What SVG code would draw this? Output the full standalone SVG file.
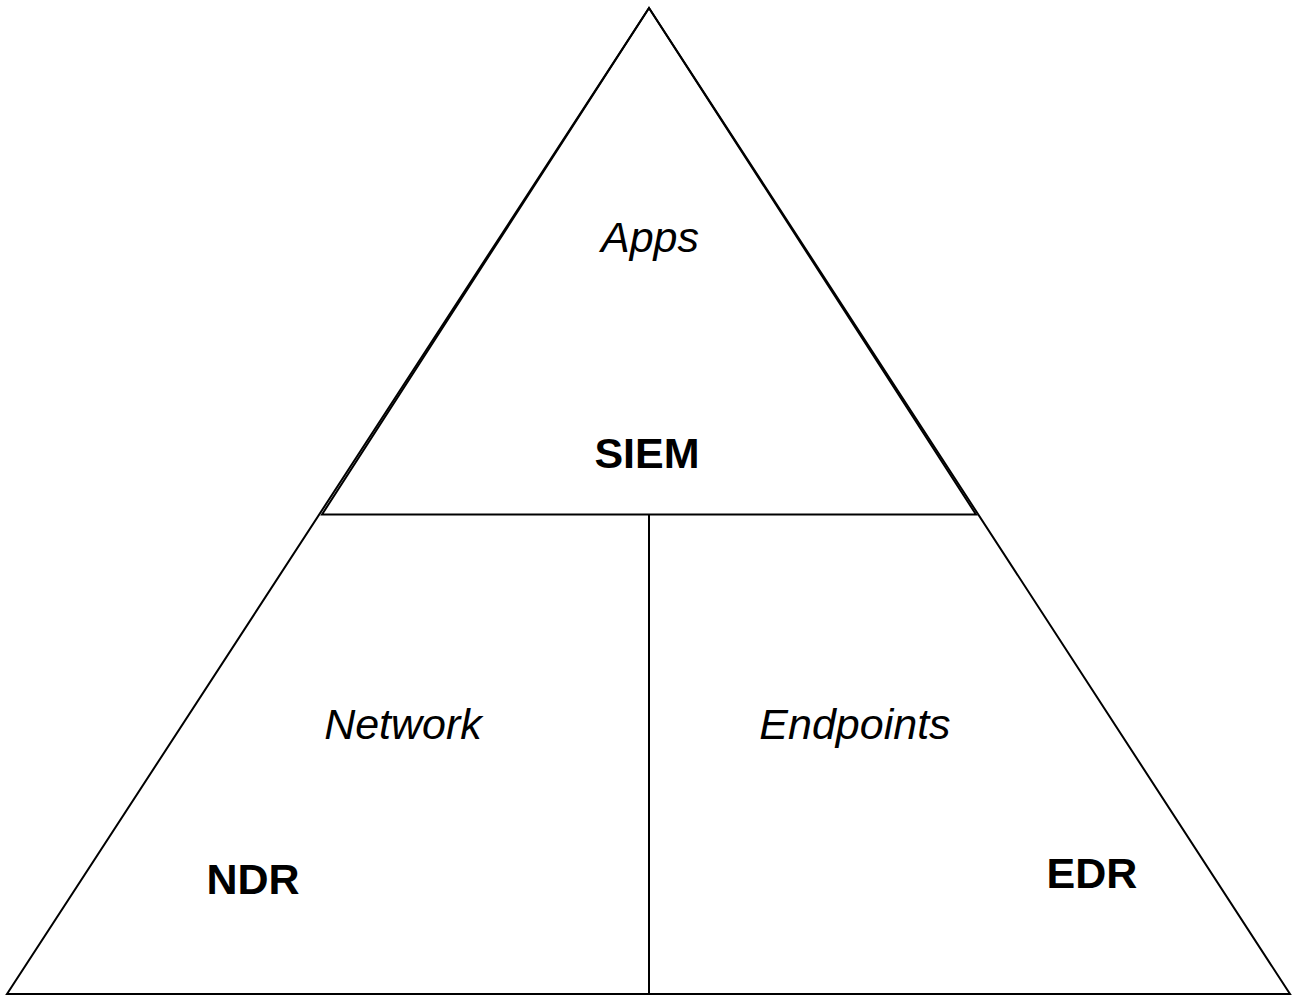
<svg xmlns="http://www.w3.org/2000/svg" width="1292" height="996" viewBox="0 0 1292 996">
<style>
.ln{fill:none;stroke:#000;stroke-width:2;stroke-linejoin:miter}
.t{font-family:"Liberation Sans",Arial,sans-serif;font-size:43px;fill:#000;text-anchor:middle}
.i{font-style:italic}
.b{font-weight:bold}
</style>
<rect width="1292" height="996" fill="#fff"/>
<g id="pyramid">
<polygon class="ln" points="649,8 7,994 1290,994"/>
</g>
<g id="siem">
<polygon class="ln" points="649,8 322,514.5 976,514.5"/>
<text class="t i" x="650" y="252">Apps</text>
<text class="t b" x="647" y="468">SIEM</text>
</g>
<g id="ndr">
<text class="t i" x="403" y="739">Network</text>
<text class="t b" x="253" y="894">NDR</text>
</g>
<g id="edr">
<text class="t i" x="855" y="739">Endpoints</text>
<text class="t b" x="1092" y="888">EDR</text>
</g>
<g id="connectors">
<line class="ln" x1="649" y1="514.5" x2="649" y2="994"/>
</g>
</svg>
